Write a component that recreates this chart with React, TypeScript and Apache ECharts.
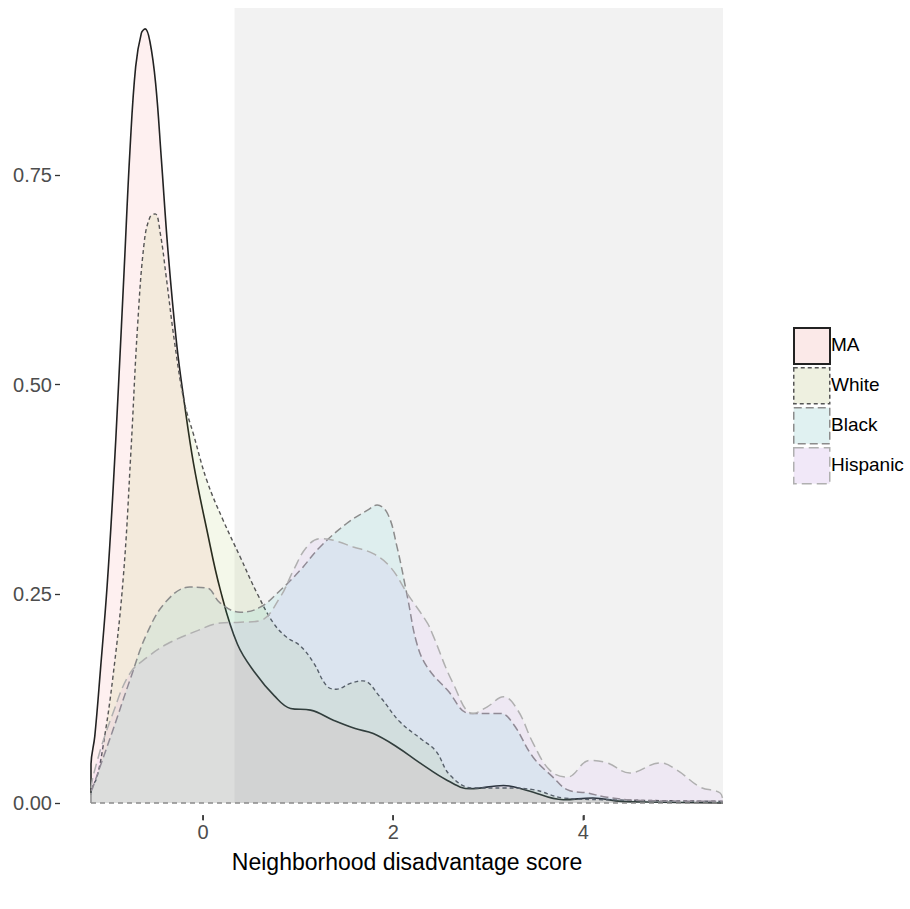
import React, { useEffect, useRef } from "react";
import * as echarts from "echarts";

const seriesNames = ["MA", "White", "Black", "Hispanic"];

const maX = [-1.18, -1.18, -1.14, -1.08, -1.01, -0.95, -0.89, -0.83, -0.77, -0.71, -0.65, -0.61, -0.56, -0.5, -0.44, -0.37, -0.28, -0.2, -0.1, 0.04, 0.18, 0.36, 0.55, 0.75, 0.92, 1.13, 1.37, 1.6, 1.79, 2.04, 2.28, 2.57, 2.81, 3.16, 3.41, 3.79, 4.1, 4.4, 4.8, 5.47];
const maY = [0, 0.045, 0.08, 0.16, 0.26, 0.37, 0.5, 0.64, 0.78, 0.88, 0.92, 0.925, 0.91, 0.86, 0.77, 0.66, 0.55, 0.48, 0.405, 0.326, 0.255, 0.19, 0.155, 0.128, 0.113, 0.111, 0.099, 0.089, 0.083, 0.067, 0.048, 0.027, 0.017, 0.021, 0.015, 0.004, 0.006, 0.002, 0.001, 0.0];

const whiteX = [-1.18, -1.18, -1.12, -1.05, -0.95, -0.84, -0.76, -0.69, -0.62, -0.56, -0.505, -0.45, -0.39, -0.3, -0.2, -0.1, 0.04, 0.21, 0.39, 0.57, 0.74, 0.88, 1.02, 1.16, 1.3, 1.4, 1.55, 1.68, 1.86, 2.07, 2.3, 2.45, 2.6, 2.84, 3.16, 3.47, 3.79, 4.2, 5.47];
const whiteY = [0, 0.015, 0.03, 0.07, 0.15, 0.27, 0.42, 0.57, 0.67, 0.7, 0.704, 0.68, 0.63, 0.55, 0.48, 0.44, 0.385, 0.338, 0.294, 0.25, 0.215, 0.198, 0.188, 0.168, 0.14, 0.136, 0.143, 0.146, 0.127, 0.097, 0.076, 0.062, 0.033, 0.018, 0.018, 0.016, 0.006, 0.004, 0.002];

const blackX = [-1.18, -1.18, -1.16, -0.95, -0.77, -0.59, -0.38, -0.14, 0.04, 0.18, 0.39, 0.6, 0.81, 1.02, 1.23, 1.51, 1.73, 1.83, 1.94, 2.04, 2.15, 2.25, 2.36, 2.57, 2.81, 3.13, 3.26, 3.47, 3.68, 3.83, 4.04, 4.25, 4.6, 5.47];
const blackY = [0, 0.012, 0.019, 0.087, 0.147, 0.203, 0.242, 0.258, 0.257, 0.239, 0.228, 0.234, 0.254, 0.278, 0.306, 0.334, 0.35, 0.356, 0.346, 0.306, 0.246, 0.19, 0.162, 0.135, 0.107, 0.107, 0.095, 0.055, 0.031, 0.016, 0.012, 0.007, 0.003, 0.002];

const hispX = [-1.18, -1.18, -1.12, -0.95, -0.77, -0.59, -0.38, -0.06, 0.18, 0.39, 0.6, 0.81, 0.95, 1.09, 1.23, 1.37, 1.58, 1.79, 1.97, 2.15, 2.36, 2.42, 2.63, 2.84, 2.99, 3.16, 3.31, 3.47, 3.65, 3.83, 4.07, 4.25, 4.49, 4.81, 4.99, 5.23, 5.44, 5.47];
const hispY = [0, 0.01, 0.048, 0.107, 0.155, 0.174, 0.19, 0.206, 0.215, 0.216, 0.218, 0.246, 0.278, 0.306, 0.316, 0.314, 0.306, 0.298, 0.282, 0.25, 0.215, 0.2, 0.143, 0.107, 0.115, 0.127, 0.111, 0.072, 0.039, 0.031, 0.051, 0.048, 0.036, 0.048, 0.039, 0.019, 0.012, 0.0];

const xTicks = [0, 2, 4];
const xTickRange = [0, 4];
const xTickStep = 2;
const yTicks = [0, 0.25, 0.5, 0.75];
const xRange = [-1.18, 5.47];
const yRange = [-0.0143, 0.95];
const shadeStart = 0.33;

const fills = ["rgba(248,118,109,0.15)", "rgba(124,174,0,0.12)", "rgba(0,191,196,0.12)", "rgba(199,124,255,0.12)"];
const strokes = ["#222222", "#555555", "#8c8c8c", "#b0b0b0"];
const dashes: (number[] | null)[] = [null, [4, 3], [8, 4], [10, 5]];
const widths = [1.6, 1.4, 1.5, 1.5];
const legendFills = ["#fbe9e8", "#eef0e0", "#e0f1f1", "#f1e8f8"];

const zip = (xs: number[], ys: number[]) => xs.map((x, i) => [x, ys[i]]);

// pixel geometry of the panel
const plotLeft = 91;
const plotRight = 723;
const chartW = 910;

export default function App() {
  const ref = useRef<HTMLDivElement>(null);
  useEffect(() => {
    if (!ref.current) return;
    const chart = echarts.init(ref.current, null, { renderer: "svg" });
    const font = "Liberation Sans, Arial, Helvetica, sans-serif";
    const allData = [zip(maX, maY), zip(whiteX, whiteY), zip(blackX, blackY), zip(hispX, hispY)];

    const pxPerUnit = (plotRight - plotLeft) / (xRange[1] - xRange[0]);
    const tickGridLeft = plotLeft + (xTickRange[0] - xRange[0]) * pxPerUnit;
    const tickGridRight = chartW - (plotLeft + (xTickRange[1] - xRange[0]) * pxPerUnit);

    const curveSeries = seriesNames.map((name, i) => ({
      name,
      type: "line",
      xAxisIndex: 0,
      yAxisIndex: 0,
      data: allData[i],
      smooth: 0.4,
      showSymbol: false,
      symbol: "none",
      z: 3 + i,
      lineStyle: {
        color: strokes[i],
        width: widths[i],
        type: dashes[i] ? dashes[i] : "solid",
      },
      areaStyle: { color: fills[i], origin: 0 },
      silent: true,
    }));

    const legendTop = 327;
    const legendGap = 40;
    const legendGraphics: any[] = [];
    seriesNames.forEach((name, i) => {
      legendGraphics.push({
        type: "rect",
        left: 793,
        top: legendTop + i * legendGap,
        shape: { width: 36, height: 36 },
        style: {
          fill: legendFills[i],
          stroke: strokes[i],
          lineWidth: i === 0 ? 2 : 1.5,
          lineDash: dashes[i] ? dashes[i] : null,
        },
      });
      legendGraphics.push({
        type: "text",
        left: 831,
        top: legendTop + i * legendGap + 8,
        style: {
          text: name,
          fill: "#000000",
          font: `19px ${font}`,
        },
      });
    });

    chart.setOption({
      animation: false,
      backgroundColor: "#ffffff",
      grid: [
        { left: plotLeft, right: chartW - plotRight, top: 8, bottom: 94, containLabel: false },
        { left: tickGridLeft, right: tickGridRight, top: 8, bottom: 94, containLabel: false },
      ],
      xAxis: [
        {
          type: "value",
          gridIndex: 0,
          min: xRange[0],
          max: xRange[1],
          axisLine: { show: false, onZero: false },
          axisTick: { show: false },
          axisLabel: { show: false },
          splitLine: { show: false },
          name: "Neighborhood disadvantage score",
          nameLocation: "middle",
          nameGap: 35,
          nameTextStyle: { color: "#000000", fontSize: 23, fontFamily: font },
        },
        {
          type: "value",
          gridIndex: 1,
          min: xTickRange[0],
          max: xTickRange[1],
          interval: xTickStep,
          position: "bottom",
          axisLine: { show: false, onZero: false },
          axisTick: { show: true, inside: false, length: 5, lineStyle: { color: "#333333", width: 1.5 } },
          axisLabel: { color: "#4d4d4d", fontSize: 20, fontFamily: font, margin: 7, showMinLabel: true, showMaxLabel: true },
          splitLine: { show: false },
        },
      ],
      yAxis: [
        {
          type: "value",
          gridIndex: 0,
          min: yRange[0],
          max: yRange[1],
          offset: 31,
          axisLine: { show: false, onZero: false },
          axisTick: { show: true, inside: false, length: 5, lineStyle: { color: "#333333", width: 1.3 }, customValues: yTicks },
          axisLabel: { color: "#4d4d4d", fontSize: 20, fontFamily: font, margin: 8, customValues: yTicks, formatter: (v: number) => v.toFixed(2) },
          splitLine: { show: false },
        },
        {
          type: "value",
          gridIndex: 1,
          min: yRange[0],
          max: yRange[1],
          show: false,
        },
      ],
      graphic: legendGraphics,
      series: [
        {
          name: "shade",
          type: "line",
          xAxisIndex: 0,
          yAxisIndex: 0,
          data: [],
          z: 1,
          silent: true,
          markArea: {
            silent: true,
            itemStyle: { color: "#f2f2f2", opacity: 1 },
            data: [[{ xAxis: shadeStart, yAxis: 0 }, { xAxis: xRange[1], yAxis: yRange[1] }]],
          },
        },
        ...curveSeries,
        {
          name: "baseline",
          type: "line",
          xAxisIndex: 0,
          yAxisIndex: 0,
          data: [[xRange[0], 0], [xRange[1], 0]],
          showSymbol: false,
          symbol: "none",
          z: 10,
          silent: true,
          lineStyle: { color: "#8a8a8a", width: 1.4, type: [5, 4] },
        },
        {
          name: "xticks",
          type: "scatter",
          xAxisIndex: 1,
          yAxisIndex: 1,
          data: xTicks.map((t) => [t, yRange[0]]),
          symbol: "rect",
          symbolSize: [1.6, 5],
          symbolOffset: [0, 3],
          clip: false,
          silent: true,
          z: 12,
          itemStyle: { color: "#333333" },
        },
      ],
    });
    return () => chart.dispose();
  }, []);
  return <div ref={ref} style={{ position: "fixed", left: 0, top: 0, width: 910, height: 909 }} />;
}
